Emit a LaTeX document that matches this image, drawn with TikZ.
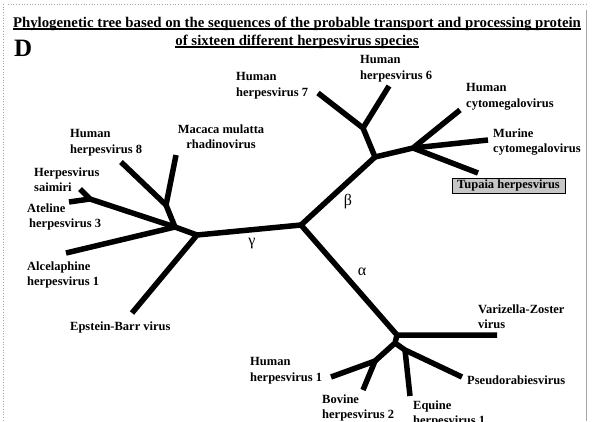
\documentclass[tikz,border=0pt]{standalone}
\usepackage{fontspec}
\setmainfont{Liberation Serif}
\newcommand\ulbar[1]{\setbox0\hbox{#1}\rlap{\rule[-2.6pt]{\wd0}{1.4pt}}\box0}
\begin{document}
\begin{tikzpicture}[x=1pt,y=-1pt,
  branch/.style={line width=5.5pt, line join=round, line cap=butt},
  lbl/.style={font=\bfseries\fontsize{12.5}{15.5}\selectfont, inner sep=0pt, anchor=north west, align=left},
  greek/.style={font=\fontsize{16}{16}\selectfont, inner sep=0pt},
  frameline/.style={gray!70, line width=0.7pt}]
\useasboundingbox (0,0) rectangle (601,421);
% frame
\draw[frameline, dotted] (8,4) -- (586,4);
\draw[frameline, dotted] (3,4) -- (3,421);
\draw[frameline] (586,10) -- (586,421);
% title
\node[inner sep=0pt, font=\bfseries\fontsize{14.8}{18}\selectfont, align=center, anchor=north] (title) at (297,16.5)
  {\ulbar{Phylogenetic tree based on the sequences of the probable transport and processing protein}\\
   \ulbar{of sixteen different herpesvirus species}};
\node[inner sep=0pt, font=\bfseries\fontsize{25}{25}\selectfont, anchor=north west] (D) at (14,40) {D};
% junctions and leaves
\coordinate (C) at (301,225);
\coordinate (G) at (197,235);
\coordinate (A) at (175,227);
\coordinate (B) at (166,205);
\coordinate (mac) at (176,155);
\coordinate (hhv8) at (121,162);
\coordinate (S) at (90,199);
\coordinate (saim) at (80,189);
\coordinate (atel) at (69,202);
\coordinate (alc) at (66,253);
\coordinate (ebv) at (132,313);
\coordinate (Bj) at (375,157);
\coordinate (H67) at (363,128);
\coordinate (hhv7) at (318,93);
\coordinate (hhv6) at (389,86);
\coordinate (CMV) at (413,148);
\coordinate (hcmv) at (460,110);
\coordinate (mcmv) at (488,140);
\coordinate (tup) at (478,173);
\coordinate (Aj) at (397,335);
\coordinate (vzv) at (497,335);
\coordinate (Sub) at (395,343);
\coordinate (HB) at (375,361);
\coordinate (hhv1) at (331,377);
\coordinate (bov) at (363,390);
\coordinate (EP) at (405,350);
\coordinate (prv) at (462,377);
\coordinate (equ) at (410,396);
% branches
\draw[branch] (C) -- (G) -- (ebv);
\draw[branch] (G) -- (A) -- (alc);
\draw[branch] (A) -- (B) -- (mac);
\draw[branch] (B) -- (hhv8);
\draw[branch] (A) -- (S) -- (saim);
\draw[branch] (S) -- (atel);
\draw[branch] (C) -- (Bj) -- (H67) -- (hhv7);
\draw[branch] (H67) -- (hhv6);
\draw[branch] (Bj) -- (CMV) -- (hcmv);
\draw[branch] (CMV) -- (mcmv);
\draw[branch] (CMV) -- (tup);
\draw[branch] (C) -- (Aj) -- (vzv);
\draw[branch] (Aj) -- (Sub) -- (HB) -- (hhv1);
\draw[branch] (HB) -- (bov);
\draw[branch] (Sub) -- (EP) -- (prv);
\draw[branch] (EP) -- (equ);
% greek labels
\node[greek] (gam) at (252,244) {γ};
\node[greek] (bet) at (348,202) {β};
\node[greek] (alp) at (362,272) {α};
% leaf labels
\node[lbl] (lhhv7) at (236,72.5) {Human\\herpesvirus 7};
\node[lbl] (lhhv6) at (360,55.5) {Human\\herpesvirus 6};
\node[lbl] (lhcmv) at (466,83.5) {Human\\cytomegalovirus};
\node[lbl] (lmcmv) at (493,128.5) {Murine\\cytomegalovirus};
\node[draw, fill=gray!45, line width=0.8pt, inner sep=0pt, minimum width=113pt, minimum height=15pt,
  font=\bfseries\fontsize{12.5}{15.5}\selectfont] (ltup) at (508.5,185.5) {Tupaia herpesvirus};
\node[lbl, anchor=north, align=center] (lmac) at (221,124.5) {Macaca mulatta\\rhadinovirus};
\node[lbl] (lhhv8) at (70,129.5) {Human\\herpesvirus 8};
\node[lbl] (lsaim) at (34,167.5) {Herpesvirus\\saimiri};
\node[lbl] (latel) at (27,203.5) {Ateline\\\hspace*{2pt}herpesvirus 3};
\node[lbl] (lalc) at (27,261.5) {Alcelaphine\\herpesvirus 1};
\node[lbl] (lebv) at (70,321.5) {Epstein-Barr virus};
\node[lbl] (lhhv1) at (250,357.5) {Human\\herpesvirus 1};
\node[lbl] (lbov) at (322,394.5) {Bovine\\herpesvirus 2};
\node[lbl] (lequ) at (413,400.5) {Equine\\herpesvirus 1};
\node[lbl] (lprv) at (467,375.5) {Pseudorabiesvirus};
\node[lbl] (lvzv) at (478,304.5) {Varizella-Zoster\\virus};
\end{tikzpicture}
\end{document}
